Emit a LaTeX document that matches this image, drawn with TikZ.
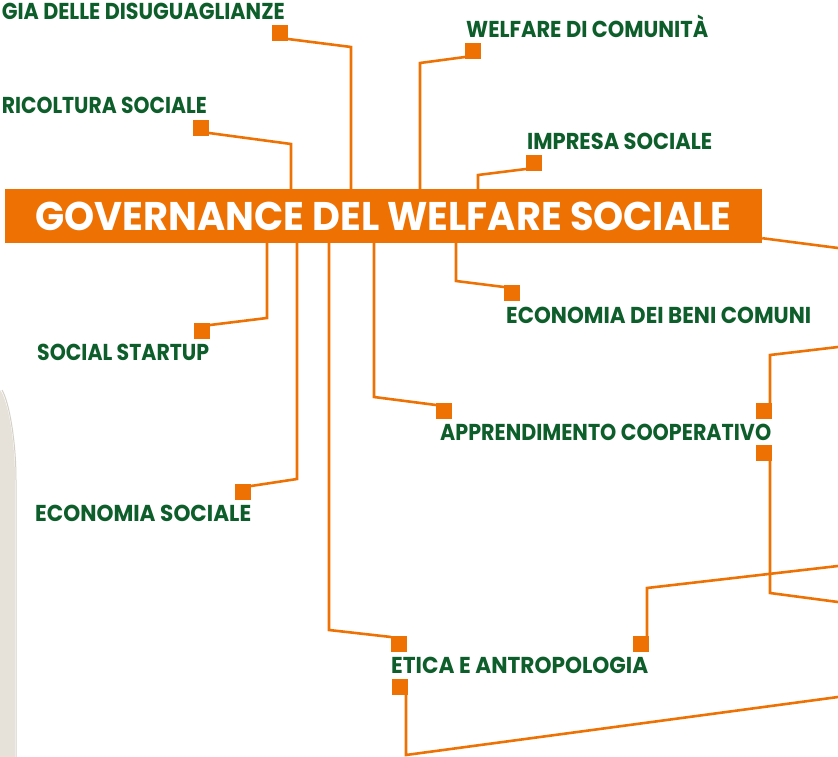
\documentclass[tikz,border=0pt]{standalone}
\usepackage{fontspec}
\newfontfamily\labfont{Poppins}
\definecolor{orng}{HTML}{EE7203}
\definecolor{dgreen}{HTML}{0D5E2B}
\definecolor{beige}{HTML}{E6E2DA}
\definecolor{beigeedge}{HTML}{D6D1C8}
\newcommand{\fitw}[2]{\resizebox{#1}{\height}{#2}}
\begin{document}
\begin{tikzpicture}[x=1pt,y=-1pt,
  conn/.style={draw=orng,line width=2.6pt,line join=miter},
  sq/.style={fill=orng,minimum size=16pt,inner sep=0pt,outer sep=0pt},
  lab/.style={text=dgreen,font=\labfont\bfseries\fontsize{23}{23}\selectfont,inner sep=0pt},
  titlebar/.style={fill=orng,text=white,font=\labfont\bfseries\fontsize{40}{40}\selectfont,
    minimum width=757pt,minimum height=54pt,inner sep=0pt,text height=28pt,text depth=0pt}]
\useasboundingbox (0,0) rectangle (838,757);
\fill[white] (0,0) rectangle (838,757);
% left background shape
\fill[beige] (0,390) .. controls (8,400) and (15,440) .. (15,480) -- (15,757) -- (0,757) -- cycle;
\draw[beigeedge,line width=1pt] (2,390) .. controls (9,402) and (16,440) .. (16,480) -- (16,757);
% title bar
\node[titlebar] (bar) at (383.5,216) {\fitw{696pt}{GOVERNANCE DEL WELFARE SOCIALE}};
% squares
\node[sq] (s1) at (280,33) {};
\node[sq] (s2) at (201,128) {};
\node[sq] (s3) at (473,51) {};
\node[sq] (s4) at (534,163) {};
\node[sq] (s5) at (202,331) {};
\node[sq] (s6) at (243,492) {};
\node[sq] (s7) at (399,644) {};
\node[sq] (s8) at (400,687) {};
\node[sq] (s9) at (444,411) {};
\node[sq] (s10) at (512,293) {};
\node[sq] (s11) at (764,411) {};
\node[sq] (s12) at (764,453) {};
\node[sq] (s13) at (641,644) {};
% labels
\node[lab,anchor=base east] (l1) at (285,20) {\fitw{283pt}{GIA DELLE DISUGUAGLIANZE}};
\node[lab,anchor=base east] (l2) at (207,114) {\fitw{205pt}{RICOLTURA SOCIALE}};
\node[lab,anchor=base west] (l3) at (466,38) {\fitw{242pt}{WELFARE DI COMUNITÀ}};
\node[lab,anchor=base west] (l4) at (527,150) {\fitw{185pt}{IMPRESA SOCIALE}};
\node[lab,anchor=base west] (l5) at (37,360) {\fitw{172pt}{SOCIAL STARTUP}};
\node[lab,anchor=base west] (l6) at (35,521) {\fitw{216pt}{ECONOMIA SOCIALE}};
\node[lab,anchor=base west] (l7) at (506,323) {\fitw{305pt}{ECONOMIA DEI BENI COMUNI}};
\node[lab,anchor=base west] (l8) at (440,440) {\fitw{331pt}{APPRENDIMENTO COOPERATIVO}};
\node[lab,anchor=base west] (l9) at (391,673) {\fitw{257pt}{ETICA E ANTROPOLOGIA}};
% corner coordinates
\coordinate (k1) at (351,47);
\coordinate (k2) at (291,144);
\coordinate (k3) at (420,63);
\coordinate (k4) at (478,175);
\coordinate (e5) at (838,248);
\coordinate (k6) at (267,318);
\coordinate (k7) at (297,479);
\coordinate (k8) at (329,630);
\coordinate (k9) at (406,755);
\coordinate (e9) at (838,697);
\coordinate (k10) at (374,397);
\coordinate (k11) at (456,281);
\coordinate (k12) at (770,355);
\coordinate (e12) at (838,347);
\coordinate (k13) at (770,593);
\coordinate (e13) at (838,602);
\coordinate (k14) at (647,588);
\coordinate (e14) at (838,566);
% connectors
\draw[conn] ([yshift=-6pt]s1.east) -- (k1) -- (k1 |- bar.north);
\draw[conn] ([yshift=-5pt]s2.east) -- (k2) -- (k2 |- bar.north);
\draw[conn] ([yshift=-6pt]s3.west) -- (k3) -- (k3 |- bar.north);
\draw[conn] ([yshift=-6pt]s4.west) -- (k4) -- (k4 |- bar.north);
\draw[conn] ([yshift=5pt]bar.south east) -- (e5);
\draw[conn] (k6 |- bar.south) -- (k6) -- ([yshift=6pt]s5.east);
\draw[conn] (k7 |- bar.south) -- (k7) -- ([yshift=6pt]s6.east);
\draw[conn] (k8 |- bar.south) -- (k8) -- ([yshift=7pt]s7.west);
\draw[conn] ([xshift=6pt]s8.south) -- (k9) -- (e9);
\draw[conn] (k10 |- bar.south) -- (k10) -- ([yshift=6pt]s9.west);
\draw[conn] (k11 |- bar.south) -- (k11) -- ([yshift=6pt]s10.west);
\draw[conn] ([xshift=6pt]s11.north) -- (k12) -- (e12);
\draw[conn] ([xshift=6pt]s12.south) -- (k13) -- (e13);
\draw[conn] ([xshift=6pt]s13.north) -- (k14) -- (e14);
% squares on top of connector ends
\foreach \s in {s1,s2,s3,s4,s5,s6,s7,s8,s9,s10,s11,s12,s13}
  \fill[orng] (\s.south west) rectangle (\s.north east);
\end{tikzpicture}
\end{document}
